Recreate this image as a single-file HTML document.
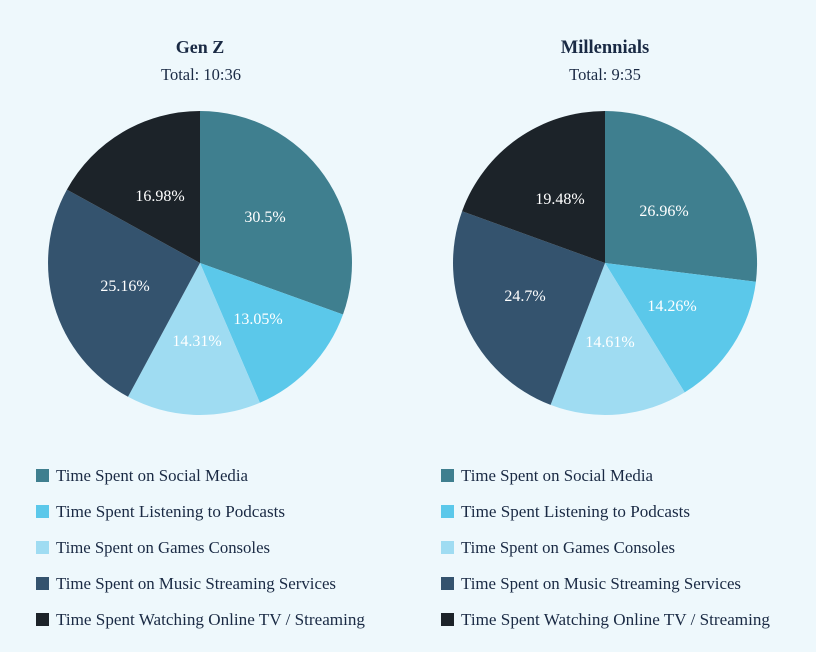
<!DOCTYPE html>
<html><head><meta charset="utf-8"><style>
body{margin:0;background:#eef8fc;}
svg{display:block}
text{font-family:"Liberation Serif",serif;}
</style></head><body>
<svg width="816" height="652" viewBox="0 0 816 652">
<rect width="816" height="652" fill="#eef8fc"/>
<text x="200" y="53" text-anchor="middle" font-size="18" font-weight="bold" fill="#1a2a44">Gen Z</text>
<text x="201" y="80" text-anchor="middle" font-size="16.5" fill="#1a2a44">Total: 10:36</text>
<text x="605" y="53" text-anchor="middle" font-size="18.5" font-weight="bold" fill="#1a2a44">Millennials</text>
<text x="605" y="80" text-anchor="middle" font-size="16.5" fill="#1a2a44">Total: 9:35</text>
<g>
<path d="M200,263 L200,111 A152,152 0 0 1 343,314.5 Z" fill="#3f7f8f"/>
<path d="M200,263 L343,314.5 A152,152 0 0 1 259.9,402.7 Z" fill="#5bc8ea"/>
<path d="M200,263 L259.9,402.7 A152,152 0 0 1 128,396.8 Z" fill="#9fdcf2"/>
<path d="M200,263 L128,396.8 A152,152 0 0 1 66.9,189.6 Z" fill="#34536e"/>
<path d="M200,263 L66.9,189.6 A152,152 0 0 1 200,111 Z" fill="#1c2329"/>
</g>
<g>
<path d="M605,263 L605,111 A152,152 0 0 1 755.9,281.7 Z" fill="#3f7f8f"/>
<path d="M605,263 L755.9,281.7 A152,152 0 0 1 684.7,392.4 Z" fill="#5bc8ea"/>
<path d="M605,263 L684.7,392.4 A152,152 0 0 1 550.6,404.9 Z" fill="#9fdcf2"/>
<path d="M605,263 L550.6,404.9 A152,152 0 0 1 462.1,211.2 Z" fill="#34536e"/>
<path d="M605,263 L462.1,211.2 A152,152 0 0 1 605,111 Z" fill="#1c2329"/>
</g>
<g font-size="16" fill="#fff" text-anchor="middle">
<text x="265" y="222">30.5%</text>
<text x="258" y="324">13.05%</text>
<text x="197" y="346">14.31%</text>
<text x="125" y="291">25.16%</text>
<text x="160" y="201">16.98%</text>
<text x="664" y="216">26.96%</text>
<text x="672" y="311">14.26%</text>
<text x="610" y="347">14.61%</text>
<text x="525" y="301">24.7%</text>
<text x="560" y="204">19.48%</text>
</g>
<g font-size="17" fill="#1a2a44">
<rect x="36" y="469" width="13" height="13" fill="#3f7f8f"/><text x="56" y="481" textLength="192" lengthAdjust="spacingAndGlyphs">Time Spent on Social Media</text>
<rect x="36" y="505" width="13" height="13" fill="#5bc8ea"/><text x="56" y="517" textLength="229" lengthAdjust="spacingAndGlyphs">Time Spent Listening to Podcasts</text>
<rect x="36" y="541" width="13" height="13" fill="#9fdcf2"/><text x="56" y="553" textLength="214" lengthAdjust="spacingAndGlyphs">Time Spent on Games Consoles</text>
<rect x="36" y="577" width="13" height="13" fill="#34536e"/><text x="56" y="589" textLength="280" lengthAdjust="spacingAndGlyphs">Time Spent on Music Streaming Services</text>
<rect x="36" y="613" width="13" height="13" fill="#1c2329"/><text x="56" y="625" textLength="309" lengthAdjust="spacingAndGlyphs">Time Spent Watching Online TV / Streaming</text>
<rect x="441" y="469" width="13" height="13" fill="#3f7f8f"/><text x="461" y="481" textLength="192" lengthAdjust="spacingAndGlyphs">Time Spent on Social Media</text>
<rect x="441" y="505" width="13" height="13" fill="#5bc8ea"/><text x="461" y="517" textLength="229" lengthAdjust="spacingAndGlyphs">Time Spent Listening to Podcasts</text>
<rect x="441" y="541" width="13" height="13" fill="#9fdcf2"/><text x="461" y="553" textLength="214" lengthAdjust="spacingAndGlyphs">Time Spent on Games Consoles</text>
<rect x="441" y="577" width="13" height="13" fill="#34536e"/><text x="461" y="589" textLength="280" lengthAdjust="spacingAndGlyphs">Time Spent on Music Streaming Services</text>
<rect x="441" y="613" width="13" height="13" fill="#1c2329"/><text x="461" y="625" textLength="309" lengthAdjust="spacingAndGlyphs">Time Spent Watching Online TV / Streaming</text>
</g>
</svg>
</body></html>
